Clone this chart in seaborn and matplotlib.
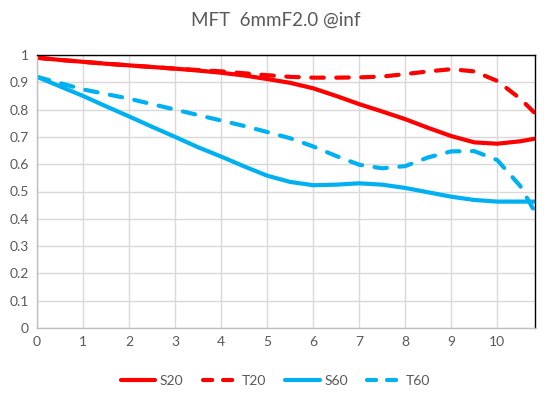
import numpy as np
import pandas as pd
import matplotlib
matplotlib.use("Agg")
import matplotlib.pyplot as plt
import seaborn as sns
from matplotlib.lines import Line2D

# image height (mm) and MTF values
x = [0, 0.5, 1, 1.5, 2, 2.5, 3, 3.5, 4, 4.5, 5, 5.5, 6, 6.5, 7, 7.5, 8, 8.5, 9, 9.5, 10, 10.5, 10.8]
s20 = [0.99, 0.982, 0.975, 0.968, 0.962, 0.956, 0.95, 0.943, 0.935, 0.925, 0.912, 0.898, 0.878,
       0.85, 0.82, 0.793, 0.765, 0.733, 0.703, 0.68, 0.675, 0.684, 0.693]
t20 = [0.99, 0.982, 0.975, 0.968, 0.962, 0.956, 0.95, 0.945, 0.94, 0.933, 0.926, 0.92, 0.917,
       0.917, 0.918, 0.921, 0.93, 0.94, 0.948, 0.94, 0.905, 0.84, 0.79]
s60 = [0.92, 0.885, 0.85, 0.812, 0.775, 0.737, 0.70, 0.662, 0.628, 0.592, 0.558, 0.535, 0.523,
       0.525, 0.53, 0.525, 0.513, 0.497, 0.481, 0.469, 0.463, 0.463, 0.463]
t60 = [0.92, 0.897, 0.874, 0.857, 0.84, 0.82, 0.80, 0.78, 0.76, 0.74, 0.718, 0.695, 0.665,
       0.63, 0.598, 0.585, 0.593, 0.625, 0.647, 0.648, 0.615, 0.52, 0.43]

names = ["S20", "T20", "S60", "T60"]
colors = {"S20": "#FF0000", "T20": "#FF0000", "S60": "#00B0F0", "T60": "#00B0F0"}
dashed = {"S20": False, "T20": True, "S60": False, "T60": True}

df = pd.DataFrame({"x": x, "S20": s20, "T20": t20, "S60": s60, "T60": t60})
long = df.melt(id_vars="x", var_name="series", value_name="mtf")

sns.set_style("white")
plt.rcParams["font.family"] = ["Lato", "DejaVu Sans"]

fig = plt.figure(figsize=(5.51, 3.98), dpi=100)
ax = fig.add_axes([37 / 551, 70 / 398, 498 / 551, 273 / 398])

grey = "#595959"
dash = (3.0, 3.0)
for n in names:
    sub = long[long.series == n]
    sns.lineplot(data=sub, x="x", y="mtf", ax=ax, color=colors[n], lw=3, legend=False,
                 sort=False)
    ln = ax.lines[-1]
    ln.set_solid_capstyle("round")
    if dashed[n]:
        ln.set_linestyle((0, dash))
        ln.set_dash_capstyle("round")

ax.set_xlim(0, 10.82)
ax.set_ylim(0, 1)
ax.set_xticks(range(0, 11))
ax.set_yticks(np.arange(0, 1.01, 0.1))
ax.set_yticklabels(["0", "0.1", "0.2", "0.3", "0.4", "0.5", "0.6", "0.7", "0.8", "0.9", "1"])
ax.grid(True, color="#D9D9D9", lw=1)
ax.set_axisbelow(True)
ax.set_xlabel("")
ax.set_ylabel("")
ax.tick_params(axis="both", labelsize=10, colors=grey, length=0, pad=6)
for s in ["top", "right"]:
    ax.spines[s].set_color("black")
    ax.spines[s].set_linewidth(1)
for s in ["left", "bottom"]:
    ax.spines[s].set_color("#BFBFBF")
    ax.spines[s].set_linewidth(1)

fig.text(0.5, 1 - 20 / 398, "MFT  6mmF2.0 @inf", ha="center", va="center",
         fontsize=13.5, color=grey)

handles = []
for n in names:
    h = Line2D([], [], color=colors[n], lw=3, solid_capstyle="round",
               dash_capstyle="round", linestyle=(0, (2.2, 2.6)) if dashed[n] else "-")
    handles.append(h)
fig.legend(handles, names, loc="center", bbox_to_anchor=(0.5, 1 - 381 / 398), ncol=4,
           frameon=False, fontsize=10, labelcolor=grey, handlelength=2.5,
           handletextpad=0.3, columnspacing=1.4)

fig.savefig("out.png", dpi=100)
